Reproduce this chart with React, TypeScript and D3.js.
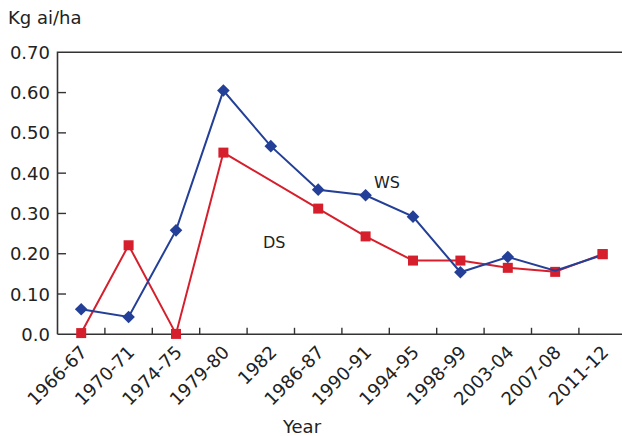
import React from "react";
import * as d3 from "d3";

const categories = ["1966-67", "1970-71", "1974-75", "1979-80", "1982", "1986-87", "1990-91", "1994-95", "1998-99", "2003-04", "2007-08", "2011-12"];
const wsValues: (number | null)[] = [0.062, 0.043, 0.258, 0.605, 0.467, 0.359, 0.345, 0.292, 0.154, 0.192, 0.158, 0.197];
const dsValues: (number | null)[] = [0.003, 0.221, 0.001, 0.451, null, 0.312, 0.243, 0.183, 0.183, 0.165, 0.155, 0.199];
const wsMarkers = [true, true, true, true, true, true, true, true, true, true, false, false];
const yTicks = [0, 0.1, 0.2, 0.3, 0.4, 0.5, 0.6, 0.7];
const yTickLabels = ["0.0", "0.10", "0.20", "0.30", "0.40", "0.50", "0.60", "0.70"];

const W = 622, H = 436;
const left = 57.5, top = 52.3, bottom = 334.3, right = 626.3;
const BLUE = "#233f97";
const RED = "#d61f2c";
const AXIS = "#333";
const TEXT = "#222";
const FONT = "'DejaVu Sans', sans-serif";

export default function App() {
  const x = d3.scaleBand<string>().domain(categories).range([left, right]);
  const cx = (c: string) => (x(c) as number) + x.bandwidth() / 2;
  const y = d3.scaleLinear().domain([0, 0.7]).range([bottom, top]);

  const line = d3
    .line<number | null>()
    .defined((d) => d !== null)
    .x((_, i) => cx(categories[i]))
    .y((d) => y(d as number));

  const wsPts = wsValues.map((v, i) => ({ v, i }));
  const dsPts = dsValues.map((v, i) => ({ v, i })).filter((p) => p.v !== null);
  const dsLine = d3
    .line<{ v: number | null; i: number }>()
    .x((p) => cx(categories[p.i]))
    .y((p) => y(p.v as number));

  const diamond = (px: number, py: number, r: number) =>
    `M${px},${py - r}L${px + r},${py}L${px},${py + r}L${px - r},${py}Z`;
  const sq = 10;
  const lastDs = dsPts[dsPts.length - 1];

  return (
    <svg width={W} height={H} style={{ position: "absolute", left: 0, top: 0 }} fontFamily={FONT}>
      <rect x={0} y={0} width={W} height={H} fill="#fff" />
      {/* frame */}
      <path d={`M${left},${bottom}V${top}H${right}`} fill="none" stroke={AXIS} strokeWidth={1.6} />
      <line x1={left} x2={right} y1={bottom} y2={bottom} stroke={AXIS} strokeWidth={1.6} />
      {/* y ticks */}
      {yTicks.map((t, i) => (
        <g key={t}>
          {i > 0 && i < yTicks.length - 1 && (
            <line x1={left} x2={left + 8.5} y1={y(t)} y2={y(t)} stroke={AXIS} strokeWidth={1.4} />
          )}
          <text x={50} y={y(t) + 6.6} textAnchor="end" fontSize={18} fill={TEXT}>
            {yTickLabels[i]}
          </text>
        </g>
      ))}
      {/* x ticks */}
      {categories.slice(1).map((c) => (
        <line key={c} x1={x(c) as number} x2={x(c) as number} y1={bottom} y2={bottom - 6.5} stroke={AXIS} strokeWidth={1.4} />
      ))}
      {categories.map((c) => (
        <text
          key={c}
          transform={`translate(${cx(c) + 7},${bottom + 19}) rotate(-45)`}
          textAnchor="end"
          fontSize={18}
          fill={TEXT}
        >
          {c}
        </text>
      ))}
      <text x={8} y={24} fontSize={18} fill={TEXT}>Kg ai/ha</text>
      <text x={302} y={432.5} textAnchor="middle" fontSize={18} fill={TEXT}>Year</text>

      {/* DS series */}
      <path d={dsLine(dsPts) as string} fill="none" stroke={RED} strokeWidth={2} />
      {dsPts.map((p) => (
        <rect key={p.i} x={cx(categories[p.i]) - sq / 2} y={y(p.v as number) - sq / 2} width={sq} height={sq} fill={RED} />
      ))}
      {/* WS series */}
      <path d={line(wsValues) as string} fill="none" stroke={BLUE} strokeWidth={2} />
      {wsPts.filter((p) => wsMarkers[p.i] && p.v !== null).map((p) => (
        <path key={p.i} d={diamond(cx(categories[p.i]), y(p.v as number), 6.3)} fill={BLUE} />
      ))}
      <rect x={cx(categories[lastDs.i]) - sq / 2} y={y(lastDs.v as number) - sq / 2} width={sq} height={sq} fill={RED} />

      <text x={374} y={188} fontSize={16} fill={TEXT}>WS</text>
      <text x={263} y={248} fontSize={16} fill={TEXT}>DS</text>
    </svg>
  );
}
